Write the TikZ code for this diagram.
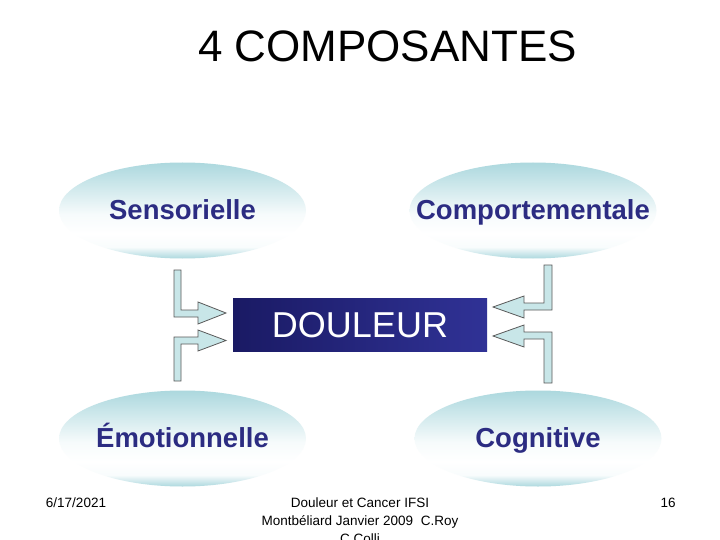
\documentclass[tikz,border=0pt]{standalone}
\usepackage{fontspec}
\setmainfont{Liberation Sans}
\usetikzlibrary{shapes.geometric}
\definecolor{ellT}{RGB}{172,216,222}
\definecolor{arrF}{RGB}{200,230,232}
\definecolor{arrD}{RGB}{90,90,90}
\definecolor{lblC}{RGB}{44,44,130}
\definecolor{boxL}{RGB}{26,26,100}
\definecolor{boxR}{RGB}{48,50,150}
\pgfdeclareverticalshading{ellshade}{100bp}{color(0bp)=(ellT); color(25bp)=(ellT); color(31bp)=(white!92!ellT); color(38bp)=(white); color(48bp)=(white!90!ellT); color(75bp)=(ellT); color(100bp)=(ellT)}
\tikzset{
  ell/.style={ellipse, minimum width=247pt, minimum height=96pt, inner sep=0pt, shading=ellshade},
  lbl/.style={text=lblC, anchor=base, font=\fontsize{27.5}{30}\selectfont\bfseries},
  blockarrow/.style={fill=arrF, draw=arrD, line width=0.8pt, line join=miter},
  foot/.style={font=\fontsize{13.5}{18}\selectfont, text=black, align=center}
}
\begin{document}
\begin{tikzpicture}[x=1pt, y=-1pt]
\useasboundingbox (0,0) rectangle (720,540);
\fill[white] (0,0) rectangle (720,540);
% title
\node[anchor=base] (title) at (387.5,61.5) {\fontsize{44}{48}\selectfont 4 COMPOSANTES};
% ellipses
\node[ell] (sens) at (182.5,210.5) {};
\node[ell] (comp) at (533,210.5) {};
\node[ell] (emo) at (182.5,438.5) {};
\node[ell] (cog) at (538,438.5) {};
\node[lbl] (sensT) at ([yshift=-9.5pt]sens.center) {Sensorielle};
\node[lbl] (compT) at ([yshift=-9.5pt]comp.center) {Comportementale};
\node[lbl] (emoT) at ([yshift=-8.5pt]emo.center) {Émotionnelle};
\node[lbl] (cogT) at ([yshift=-8.5pt]cog.center) {Cognitive};
% central box
\node[minimum width=254pt, minimum height=53pt, inner sep=0pt, left color=boxL, right color=boxR, text=white, font=\fontsize{36}{40}\selectfont] (dou) at (360,325) {DOULEUR};
% block arrows
\draw[blockarrow] (174,270) -- (181,270) -- (181,310) -- (198,310) -- (198,302) -- (226,313) -- (198,324) -- (198,317) -- (174,317) -- cycle;
\draw[blockarrow] (174,381) -- (181,381) -- (181,344) -- (198,344) -- (198,351) -- (226,340.5) -- (198,330) -- (198,337) -- (174,337) -- cycle;
\draw[blockarrow] (552,265) -- (544,265) -- (544,303) -- (524,303) -- (524,296) -- (493,307) -- (524,318) -- (524,310) -- (552,310) -- cycle;
\draw[blockarrow] (552,383) -- (544,383) -- (544,339) -- (524,339) -- (524,347) -- (493,336) -- (524,325) -- (524,332) -- (552,332) -- cycle;
% footer
\node[foot] (date) at (76,503) {6/17/2021};
\node[foot] (num) at (668,503) {16};
\node[foot, anchor=north] (src) at (360,494) {Douleur et Cancer IFSI\\Montbéliard Janvier 2009~ C.Roy\\C.Colli};
\end{tikzpicture}
\end{document}
